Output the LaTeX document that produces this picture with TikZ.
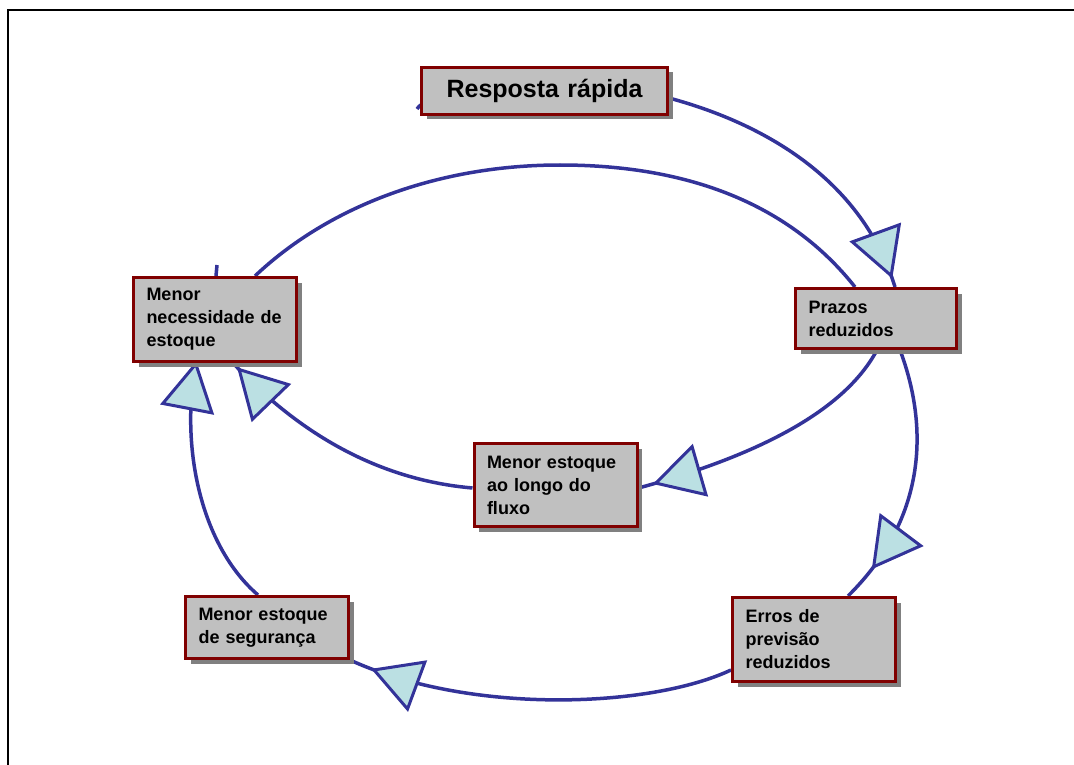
\documentclass[tikz,border=0pt]{standalone}
\usepackage{fontspec}
\setmainfont{Liberation Sans}
\usetikzlibrary{shadows,decorations.markings,backgrounds}

\definecolor{flowblue}{HTML}{333399}
\definecolor{boxred}{HTML}{800000}
\definecolor{boxgray}{HTML}{C0C0C0}
\definecolor{headfill}{HTML}{BBE0E3}
\definecolor{shadowgray}{HTML}{808080}

\tikzset{
  stagebox/.style={draw=boxred, line width=3pt, fill=boxgray,
    drop shadow={shadow xshift=5pt, shadow yshift=-5pt, fill=shadowgray, opacity=1},
    font=\fontsize{18}{23}\selectfont\bfseries, align=left,
    inner xsep=13pt, inner ysep=0pt, text width=137pt},
  flow/.style={draw=flowblue, line width=3.5pt},
  headat/.style={postaction={decorate, decoration={markings,
    mark=at position #1 with {\draw[draw=flowblue, fill=headfill, line width=3pt, line join=miter]
      (0pt,0pt) -- (-45pt,25pt) -- (-45pt,-25pt) -- cycle;}}}}
}

\begin{document}
\begin{tikzpicture}[x=1pt, y=-1pt]
\useasboundingbox (0,0) rectangle (1074,765);

% frame
\draw[line width=1.5pt] (8,765) -- (8,10) -- (1074,10);

% stages
\node[stagebox, minimum height=47pt, text width=220pt, align=center,
      font=\fontsize{25}{30}\selectfont\bfseries] (resp) at (544.5,91) {Resposta rápida};
\node[stagebox, text width=135pt, minimum height=60pt] (praz) at (876,318.5) {Prazos\\reduzidos};
\node[stagebox, minimum height=84pt] (nec) at (215,319.5) {Menor\\necessidade de\\estoque};
\node[stagebox, minimum height=83pt] (longo) at (555.5,485) {Menor estoque\\ao longo do\\fluxo};
\node[stagebox, minimum height=84pt] (erros) at (814,639.5) {Erros de\\previsão\\reduzidos};
\node[stagebox, minimum height=62pt] (seg) at (267,627.5) {Menor estoque\\de segurança};

\coordinate (rs) at (417,109);
\coordinate (stub) at (217,265);

% cycle arcs behind the boxes
\begin{scope}[on background layer]
\draw[flow, headat=-12pt] (rs) .. controls (430,85) and (600,72) .. ([yshift=-7pt]resp.east)
      .. controls (780,128) and (865,190) .. ([xshift=19pt]praz.north);
\draw[flow] ([xshift=40pt]nec.north) .. controls (330,205) and (440,165) .. (560,165)
      .. controls (690,165) and (790,205) .. ([xshift=-21pt]praz.north);
\draw[flow, headat=-18pt] ([xshift=1pt]praz.south) .. controls (845,410) and (760,455) .. ([yshift=-3pt]longo.east);
\draw[flow, headat=-9pt] ([yshift=-3pt]longo.west) .. controls (380,480) and (300,435) .. ([xshift=18pt]nec.south);
\draw[flow, headat=-39pt] ([xshift=24pt]praz.south) .. controls (930,430) and (925,520) .. ([xshift=34pt]erros.north);
\draw[flow, headat=-26pt] ([yshift=-30.5pt]erros.west) .. controls (650,708) and (470,715) .. (seg.south east);
\draw[flow, headat=-1pt] ([xshift=-9pt]seg.north) .. controls (200,545) and (180,445) .. ([xshift=-19pt]nec.south);
\draw[flow] ([xshift=1pt]nec.north) -- (stub);
\end{scope}
\end{tikzpicture}
\end{document}
